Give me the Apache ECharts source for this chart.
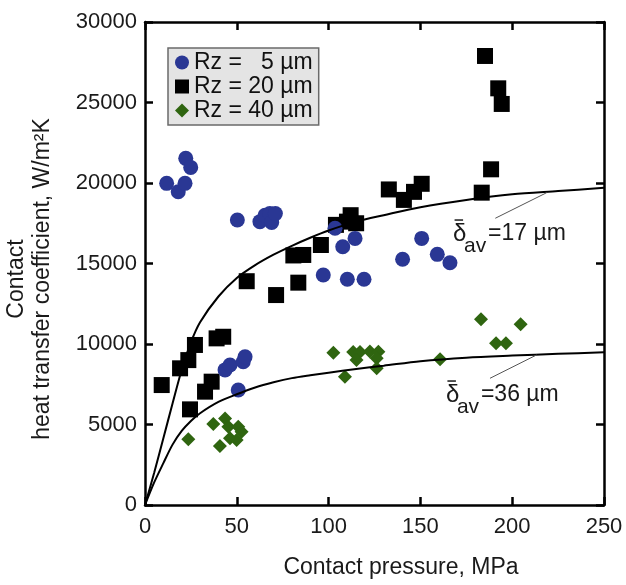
<!DOCTYPE html>
<html>
<head>
<meta charset="utf-8">
<script src="https://cdn.jsdelivr.net/npm/echarts@6/dist/echarts.min.js"></script>
<style>
  html, body { margin: 0; padding: 0; background: #ffffff; }
  #chart { width: 626px; height: 585px; }
</style>
</head>
<body>
<div id="chart"></div>
<script>
// ---- Data ----
const xTicks = [0, 50, 100, 150, 200, 250];
const yTicks = [0, 5000, 10000, 15000, 20000, 25000, 30000];

const seriesNames = ['Rz =   5 µm', 'Rz = 20 µm', 'Rz = 40 µm'];

// Rz = 5 µm (blue circles): [pressure MPa, h W/m2K]
const rz5 = [
  [11.8, 19980], [18.1, 19460], [21.8, 19980], [22.2, 21530], [24.9, 20970],
  [50.3, 17700], [62.6, 17600], [65.4, 18000], [68.0, 18100], [69.0, 17550], [71.0, 18100],
  [103.5, 17190], [107.7, 16040], [114.4, 16560],
  [97.1, 14290], [110.2, 14020], [119.3, 14020],
  [43.6, 8390], [46.3, 8700], [53.5, 8900], [54.5, 9210], [50.8, 7140],
  [150.7, 16560], [140.3, 15260], [159.2, 15570], [166.1, 15050]
];

// Rz = 20 µm (black squares)
const rz20 = [
  [9.1, 7450], [19.1, 8490], [23.6, 9000], [27.2, 9940], [39.0, 10350], [42.6, 10450],
  [36.3, 7660], [32.7, 7040], [24.5, 5940],
  [55.4, 13900], [71.4, 13040], [83.5, 13810], [80.8, 15500], [86.2, 15530],
  [95.8, 16150], [104.0, 17400], [110.0, 17600], [112.0, 18000], [115.0, 17500],
  [132.8, 19600], [141.0, 18950], [146.5, 19450], [150.7, 19950],
  [183.4, 19400], [188.5, 20850], [185.2, 27890], [192.4, 25880], [194.3, 24910]
];

// Rz = 40 µm (green diamonds)
const rz40 = [
  [23.6, 4080], [37.2, 5030], [43.6, 5380], [40.8, 3660],
  [45.4, 4860], [50.8, 4860], [52.6, 4550], [46.3, 4140], [49.9, 4040],
  [102.6, 9460], [108.9, 7970], [113.4, 9500], [117.1, 9500], [122.5, 9530], [127.1, 9520],
  [115.2, 9010], [126.2, 9110], [126.2, 8490],
  [160.7, 9050], [183.0, 11530], [204.6, 11220], [191.2, 10040], [196.6, 10040]
];

// Model curves
const curve17 = [
  [0, 0], [5, 2000], [10, 4150], [15, 6300], [20, 8400], [25, 10100], [30, 11350],
  [40, 12950], [50, 14100], [60, 14900], [70, 15550], [80, 16100], [90, 16600],
  [100, 17050], [115, 17600], [130, 18000], [150, 18500], [175, 18950],
  [200, 19300], [225, 19500], [250, 19700]
];
const curve36 = [
  [0, 0], [5, 1400], [10, 2600], [15, 3750], [20, 4600], [25, 5220], [30, 5700],
  [40, 6400], [50, 6880], [60, 7300], [70, 7620], [80, 7880], [90, 8060],
  [100, 8220], [115, 8450], [130, 8650], [150, 8930], [175, 9150],
  [200, 9280], [225, 9390], [250, 9480]
];

// Annotation leader lines and label anchors (data coordinates)
const leader17 = [[218.8, 19400], [190.8, 17810]];
const leader36 = [[213.3, 9320], [187.9, 7870]];
const annotations = [
  { anchor: [167.8, 16830], value: '=17 µm' },
  { anchor: [163.9, 6830], value: '=36 µm' }
];

const xTitle = 'Contact pressure, MPa';
const yTitle = 'Contact\nheat transfer coefficient, W/m²K';

// ---- Chart ----
const FONT = 'Liberation Sans, Arial, Helvetica, sans-serif';
const BLUE = '#2a3794';
const GREEN = '#2f6510';
const chart = echarts.init(document.getElementById('chart'), null, { renderer: 'canvas' });

const frameLine = { show: true, onZero: false, lineStyle: { color: '#000', width: 2.5 } };
const frameTick = { show: true, inside: true, length: 8, lineStyle: { color: '#000', width: 2.5 } };
const plain = v => String(v);

const option = {
  backgroundColor: '#ffffff',
  animation: false,
  grid: { left: 145, right: 22, top: 22, bottom: 80, containLabel: false },
  legend: {
    data: seriesNames,
    orient: 'vertical',
    left: 168, top: 48,
    padding: [3, 6, 3, 7],
    itemWidth: 14, itemHeight: 14, itemGap: 1,
    backgroundColor: '#e4e4e4',
    borderColor: '#6a6a6a', borderWidth: 1.5,
    textStyle: { fontSize: 23, lineHeight: 23, color: '#111', fontFamily: FONT },
    selectedMode: false
  },
  xAxis: [
    {
      type: 'value', min: xTicks[0], max: xTicks[xTicks.length - 1], interval: 50, position: 'bottom',
      axisLine: frameLine, axisTick: frameTick, splitLine: { show: false },
      axisLabel: { fontSize: 22, color: '#1a1a1a', margin: 11, fontFamily: FONT, formatter: plain }
    },
    {
      type: 'value', min: xTicks[0], max: xTicks[xTicks.length - 1], interval: 50, position: 'top',
      axisLine: frameLine, axisTick: frameTick, splitLine: { show: false },
      axisLabel: { show: false }
    }
  ],
  yAxis: [
    {
      type: 'value', min: yTicks[0], max: yTicks[yTicks.length - 1], interval: 5000, position: 'left',
      axisLine: frameLine, axisTick: frameTick, splitLine: { show: false },
      axisLabel: { fontSize: 22, color: '#1a1a1a', margin: 8, fontFamily: FONT, formatter: plain }
    },
    {
      type: 'value', min: yTicks[0], max: yTicks[yTicks.length - 1], interval: 5000, position: 'right',
      axisLine: frameLine, axisTick: frameTick, splitLine: { show: false },
      axisLabel: { show: false }
    }
  ],
  series: [
    {
      name: seriesNames[1], type: 'scatter', data: rz20, symbol: 'rect', symbolSize: 16,
      itemStyle: { color: '#000000', opacity: 1 }, z: 2
    },
    {
      name: seriesNames[0], type: 'scatter', data: rz5, symbol: 'circle', symbolSize: 15,
      itemStyle: { color: BLUE, opacity: 1 }, z: 3
    },
    {
      name: seriesNames[2], type: 'scatter', data: rz40, symbol: 'diamond', symbolSize: 14,
      itemStyle: { color: GREEN, opacity: 1 }, z: 4
    },
    {
      type: 'line', data: curve17, smooth: 0.3, showSymbol: false, symbol: 'none',
      lineStyle: { color: '#000', width: 2 }, z: 5, silent: true
    },
    {
      type: 'line', data: curve36, smooth: 0.3, showSymbol: false, symbol: 'none',
      lineStyle: { color: '#000', width: 2 }, z: 5, silent: true
    },
    {
      type: 'line', data: leader17, showSymbol: false, symbol: 'none',
      lineStyle: { color: '#555', width: 1 }, z: 5, silent: true
    },
    {
      type: 'line', data: leader36, showSymbol: false, symbol: 'none',
      lineStyle: { color: '#555', width: 1 }, z: 5, silent: true
    }
  ]
};
chart.setOption(option);

// Texts: axis titles and curve annotations
const graphics = [
  {
    type: 'text', x: 401, y: 568, z: 10,
    style: { text: xTitle, fontSize: 23, fontFamily: FONT, fill: '#1a1a1a', align: 'center', verticalAlign: 'middle' }
  },
  {
    type: 'text', x: 30, y: 279, rotation: Math.PI / 2, z: 10,
    style: { text: yTitle, fontSize: 23, lineHeight: 26, fontFamily: FONT, fill: '#1a1a1a', align: 'center', verticalAlign: 'middle' }
  }
];
annotations.forEach(a => {
  const p = chart.convertToPixel({ gridIndex: 0 }, a.anchor);
  graphics.push({
    type: 'group', x: p[0], y: p[1], z: 10,
    children: [
      { type: 'text', x: 0, y: 0, style: { text: 'δ', fontSize: 24, fontFamily: FONT, fill: '#1a1a1a', align: 'left', verticalAlign: 'middle' } },
      { type: 'line', shape: { x1: 1.5, y1: -14, x2: 10, y2: -14 }, style: { stroke: '#1a1a1a', lineWidth: 1.5 } },
      { type: 'text', x: 11, y: 12, style: { text: 'av', fontSize: 21, fontFamily: FONT, fill: '#1a1a1a', align: 'left', verticalAlign: 'middle' } },
      { type: 'text', x: 35, y: 0, style: { text: a.value, fontSize: 23, fontFamily: FONT, fill: '#1a1a1a', align: 'left', verticalAlign: 'middle' } }
    ]
  });
});
chart.setOption({ graphic: graphics });
</script>
</body>
</html>
